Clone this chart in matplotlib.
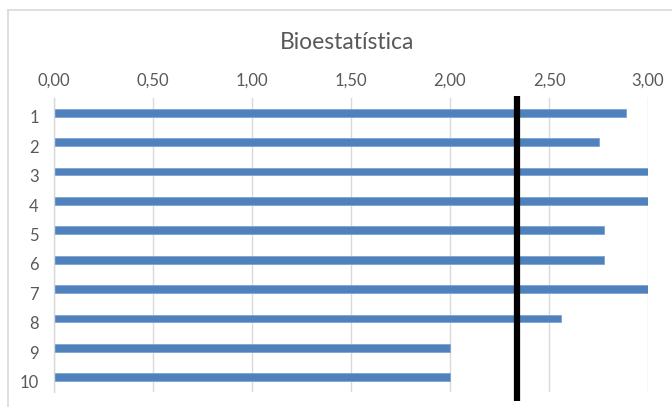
import matplotlib
matplotlib.use("Agg")
import matplotlib.pyplot as plt
from matplotlib.lines import Line2D
import matplotlib.transforms as mtransforms

categories = ["1", "2", "3", "4", "5", "6", "7", "8", "9", "10"]
values = [2.89, 2.75, 3.00, 3.00, 2.78, 2.78, 3.00, 2.56, 2.00, 2.00]
reference_value = 2.34
xticks = [0.0, 0.5, 1.0, 1.5, 2.0, 2.5, 3.0]
xtick_labels = ["0,00", "0,50", "1,00", "1,50", "2,00", "2,50", "3,00"]
title = "Bioestatística"

plt.rcParams['font.family'] = ['Lato', 'DejaVu Sans']
text_color = "#595959"

W, H = 672, 407
fig = plt.figure(figsize=(6.72, 4.07), dpi=100)
ax = fig.add_axes([54 / W, 1 - 392 / H, (648 - 54) / W, (392 - 98) / H])

y = list(range(len(categories)))
ax.barh(y, values, height=0.27, color="#4f81bd", edgecolor="#7fa3d3", linewidth=0.6, zorder=2)
ax.set_ylim(len(categories) - 0.5, -0.5)
ax.set_xlim(0, 3.0)
ax.set_yticks(y)
ax.set_yticklabels(categories)
ax.set_xticks(xticks)
ax.set_xticklabels(xtick_labels)
ax.xaxis.tick_top()
ax.tick_params(axis='x', length=0, pad=7, labelsize=12, colors=text_color)
ax.tick_params(axis='y', length=0, pad=11, labelsize=12, colors=text_color)
offset = mtransforms.ScaledTranslation(0, -3 / 72, fig.dpi_scale_trans)
for lbl in ax.get_yticklabels():
    lbl.set_transform(lbl.get_transform() + offset)
ax.grid(axis='x', color="#d9d9d9", linewidth=1.0, zorder=0)
for s in ['top', 'right', 'bottom']:
    ax.spines[s].set_visible(False)
ax.spines['left'].set_color("#d9d9d9")
ax.spines['left'].set_linewidth(1.0)

trans = mtransforms.blended_transform_factory(ax.transData, ax.transAxes)
ax.plot([reference_value, reference_value], [1.007, -0.031], transform=trans,
        color="black", linewidth=4.5, clip_on=False, zorder=5, solid_capstyle='butt')

fig.text(347 / W, 1 - 49 / H, title, ha='center', va='baseline', fontsize=16.5, color=text_color)

# chart frame (top and left edges visible)
fig.add_artist(Line2D([8 / W, 1.0], [1 - 10 / H, 1 - 10 / H], transform=fig.transFigure,
                      color="#d9d9d9", linewidth=1.2))
fig.add_artist(Line2D([8 / W, 8 / W], [1 - 10 / H, 0.0], transform=fig.transFigure,
                      color="#d9d9d9", linewidth=1.2))

fig.savefig("out.png", dpi=100)
